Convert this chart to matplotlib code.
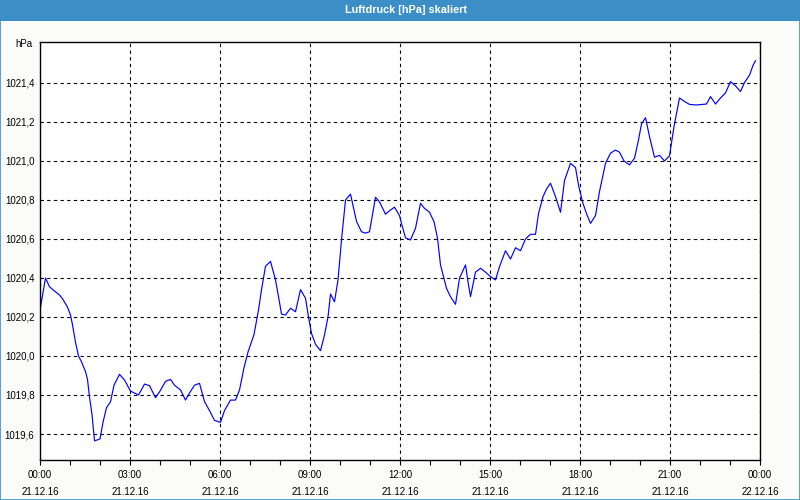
import datetime as dt
import matplotlib
matplotlib.use("Agg")
import matplotlib.pyplot as plt
import matplotlib.dates as mdates
from matplotlib.ticker import FixedLocator, FuncFormatter
from matplotlib.patches import Rectangle

plt.rcParams['font.family'] = ['Liberation Sans', 'DejaVu Sans']

# Luftdruck values (minutes after 21.12.16 00:00, hPa)
minutes = [1, 11, 19, 29, 39, 46, 55, 61, 65, 71, 77, 83, 91, 95, 99, 104, 109, 115, 120, 126,
           133, 141, 148, 159, 169, 181, 189, 197, 209, 219, 231, 240, 251, 261, 269, 281, 291, 299, 309, 319,
           329, 339, 349, 361, 369, 381, 391, 399, 408, 416, 428, 437, 443, 451, 461, 471, 478, 483, 491, 501,
           511, 521, 531, 537, 543, 551, 561, 569, 576, 581, 589, 596, 603, 611, 621, 633, 643, 651, 659, 671,
           679, 691, 699, 709, 719, 724, 731, 741, 751, 761, 769, 779, 788, 795, 801, 813, 821, 831, 839, 851,
           856, 861, 871, 881, 891, 901, 911, 919, 931, 941, 951, 961, 971, 981, 991, 997, 1006, 1013, 1021, 1031,
           1041, 1049, 1061, 1071, 1077, 1085, 1093, 1101, 1111, 1119, 1131, 1141, 1151, 1159, 1168, 1179, 1189, 1197, 1203, 1211,
           1219, 1229, 1239, 1249, 1259, 1268, 1279, 1289, 1299, 1313, 1333, 1341, 1351, 1361, 1371, 1381, 1391, 1401, 1409, 1419,
           1426, 1431]
pressure = [1020.25, 1020.40, 1020.355, 1020.333, 1020.313, 1020.29, 1020.25, 1020.21, 1020.16, 1020.07,
            1020.00, 1019.97, 1019.92, 1019.88, 1019.79, 1019.70, 1019.565, 1019.57, 1019.575, 1019.66,
            1019.735, 1019.765, 1019.85, 1019.906, 1019.877, 1019.82, 1019.81, 1019.80, 1019.856, 1019.848,
            1019.786, 1019.82, 1019.87, 1019.88, 1019.85, 1019.826, 1019.774, 1019.81, 1019.85, 1019.86,
            1019.766, 1019.72, 1019.67, 1019.66, 1019.72, 1019.774, 1019.774, 1019.826, 1019.94, 1020.02,
            1020.11, 1020.236, 1020.34, 1020.46, 1020.485, 1020.39, 1020.29, 1020.215, 1020.21, 1020.245,
            1020.227, 1020.34, 1020.296, 1020.20, 1020.116, 1020.06, 1020.027, 1020.108, 1020.20, 1020.318,
            1020.278, 1020.39, 1020.595, 1020.80, 1020.83, 1020.69, 1020.637, 1020.63, 1020.637, 1020.814,
            1020.79, 1020.727, 1020.745, 1020.763, 1020.72, 1020.67, 1020.606, 1020.595, 1020.655, 1020.783,
            1020.757, 1020.737, 1020.689, 1020.604, 1020.467, 1020.347, 1020.304, 1020.265, 1020.399, 1020.467,
            1020.38, 1020.304, 1020.43, 1020.45, 1020.43, 1020.407, 1020.39, 1020.458, 1020.54, 1020.497,
            1020.555, 1020.54, 1020.60, 1020.624, 1020.624, 1020.73, 1020.817, 1020.856, 1020.886, 1020.817,
            1020.737, 1020.90, 1020.988, 1020.966, 1020.877, 1020.79, 1020.73, 1020.68, 1020.72, 1020.843,
            1020.988, 1021.04, 1021.056, 1021.045, 1021.0, 1020.98, 1021.014, 1021.108, 1021.19, 1021.222,
            1021.125, 1021.019, 1021.029, 1021.0, 1021.026, 1021.176, 1021.323, 1021.305, 1021.29, 1021.287,
            1021.292, 1021.33, 1021.292, 1021.323, 1021.349, 1021.407, 1021.385, 1021.356, 1021.402, 1021.44,
            1021.49, 1021.514]
yticks = [1019.6, 1019.8, 1020.0, 1020.2, 1020.4, 1020.6, 1020.8, 1021.0, 1021.2, 1021.4]

title = "Luftdruck [hPa] skaliert"
unit = "hPa"
start = dt.datetime(2016, 12, 21)
end = dt.datetime(2016, 12, 22)
times = [start + dt.timedelta(minutes=m) for m in minutes]

fig = plt.figure(figsize=(8, 5), dpi=100, facecolor="#fbfcfa")

# title bar + border
fig.patches.append(Rectangle((0, 0.958), 1, 0.042, transform=fig.transFigure,
                             facecolor="#3c8fc6", edgecolor="none", zorder=0))
fig.patches.append(Rectangle((0.0006, 0.001), 0.9988, 0.998, transform=fig.transFigure,
                             facecolor="none", edgecolor="#3c8fc6", lw=1.2, zorder=5))
fig.text(0.507, 0.980, title, color="white", fontsize=7.8, fontweight="bold",
         ha="center", va="center")

ax = fig.add_axes([0.05, 0.08, 0.90, 0.836])
ax.set_facecolor("white")
ax.plot(times, pressure, color="#0000ff", lw=0.85)

ax.set_xlim(start, end)
ax.set_ylim(1019.4667, 1021.61)

ax.xaxis.set_major_locator(mdates.HourLocator(byhour=range(0, 24, 3)))
ax.xaxis.set_minor_locator(mdates.HourLocator())
ax.xaxis.set_major_formatter(mdates.DateFormatter("%H:%M\n%d.%m.%y"))
ax.yaxis.set_major_locator(FixedLocator(yticks))
ax.yaxis.set_major_formatter(FuncFormatter(lambda v, p: f"{v:.1f}".replace(".", ",")))

ax.grid(True, which="major", color="black", linestyle=(0, (3, 3)), lw=0.8)
for s in ax.spines.values():
    s.set_linewidth(1.0)
    s.set_color("black")

ax.tick_params(axis="x", which="both", direction="out", length=3.5, width=0.8,
               labelsize=7, pad=4)
for lab in ax.get_xticklabels():
    lab.set_linespacing(1.85)
ax.tick_params(axis="y", which="both", length=0, labelsize=7, pad=4)

fig.text(0.041, 0.912, unit, fontsize=7, ha="right", va="center")

fig.savefig("out.png", dpi=100, facecolor=fig.get_facecolor())
